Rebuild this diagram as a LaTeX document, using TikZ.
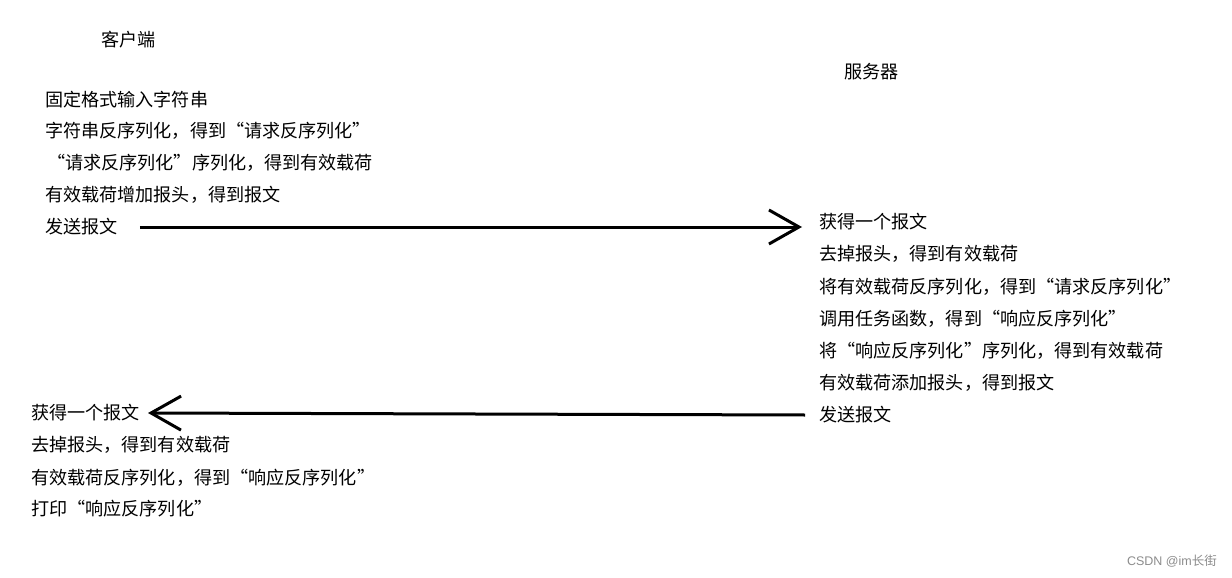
\documentclass[tikz,border=0pt]{standalone}
\usepackage{fontspec}
\newfontfamily\cjk{Noto Sans CJK SC}
\setsansfont{Liberation Sans}
\usetikzlibrary{arrows.meta}
\tikzset{
  txt/.style={anchor=west, inner sep=0pt, font=\cjk\fontsize{18.1}{20}\selectfont, text=black},
  msg/.style={line width=3pt, -{Straight Barb[length=30pt,width=34pt,line width=3pt]}},
  wm/.style={anchor=east, inner sep=0pt, font=\sffamily\fontsize{12.5}{14}\selectfont, text=black!45}
}
\begin{document}
\begin{tikzpicture}[x=1pt,y=-1pt]
\useasboundingbox (0,0) rectangle (1232,578);
\fill[white] (0,0) rectangle (1232,578);
% titles
\node[txt] (tc) at (101,40) {客户端};
\node[txt] (ts) at (844,72) {服务器};
% client
\node[txt] (c1) at (45,100) {固定格式输入字符串};
\node[txt] (c2) at (45,131) {字符串反序列化，得到“请求反序列化”};
\node[txt] (c3) at (47,163) {“请求反序列化”序列化，得到有效载荷};
\node[txt] (c4) at (45,195) {有效载荷增加报头，得到报文};
\node[txt] (c5) at (45,227) {发送报文};
% server
\node[txt] (s1) at (819,222) {获得一个报文};
\node[txt] (s2) at (819,254) {去掉报头，得到有效载荷};
\node[txt] (s3) at (819,287) {将有效载荷反序列化，得到“请求反序列化”};
\node[txt] (s4) at (819,319) {调用任务函数，得到“响应反序列化”};
\node[txt] (s5) at (819,351) {将“响应反序列化”序列化，得到有效载荷};
\node[txt] (s6) at (819,383) {有效载荷添加报头，得到报文};
\node[txt] (s7) at (819,415) {发送报文};
% client receive
\node[txt] (r1) at (31,413) {获得一个报文};
\node[txt] (r2) at (31,445) {去掉报头，得到有效载荷};
\node[txt] (r3) at (31,478) {有效载荷反序列化，得到“响应反序列化”};
\node[txt] (r4) at (31,509) {打印“响应反序列化”};
% arrows
\draw[msg] ([xshift=22pt]c5.east) -- ([xshift=-17pt]c5.east -| s1.west);
\draw[msg] ([xshift=-14pt]s7.west) -- ([xshift=8pt]r1.east);
% watermark
\node[wm] (wmk) at (1217,561) {CSDN @im\cjk 长街};
\end{tikzpicture}
\end{document}
